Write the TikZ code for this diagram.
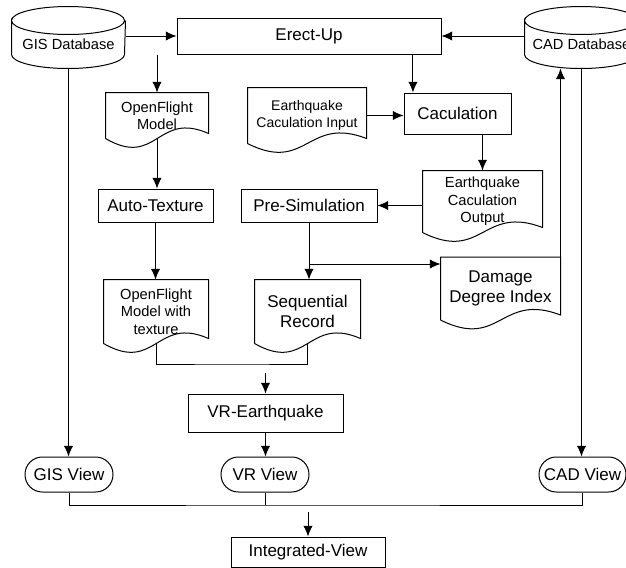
\documentclass[tikz,border=0pt]{standalone}
\usepackage{fontspec}
\setmainfont{Liberation Sans}
\usetikzlibrary{arrows.meta,calc}

\tikzset{
  box/.style={draw, inner sep=0pt, align=center, font=\fontsize{12.75}{15}\selectfont},
  view/.style={box, rounded corners=13pt, minimum width=66pt, minimum height=26.25pt},
  doc/.style={inner sep=0pt, align=center, font=\fontsize{11}{13}\selectfont,
    append after command={\pgfextra{\draw[line width=0.75pt] (\tikzlastnode.south west) -- (\tikzlastnode.north west)
      -- (\tikzlastnode.north east) -- ([yshift=3.75pt]\tikzlastnode.south east)
      .. controls ([yshift=21pt]\tikzlastnode.south) and ([yshift=-22.5pt]\tikzlastnode.south) .. (\tikzlastnode.south west);}}},
  dbase/.style={inner sep=0pt, minimum width=84.75pt, minimum height=35.25pt, font=\fontsize{11}{13}\selectfont,
    append after command={\pgfextra{\draw[line width=0.75pt] (\tikzlastnode.north west)
      arc[start angle=180, end angle=-180, x radius=42.375pt, y radius=10.5pt]
      -- ([yshift=10.5pt]\tikzlastnode.south west)
      arc[start angle=180, end angle=360, x radius=42.375pt, y radius=10.5pt]
      -- (\tikzlastnode.north east);}}}
}

\begin{document}
\begin{tikzpicture}[x=0.75pt, y=-0.75pt, line width=0.75pt, >={Latex[length=8pt,width=7pt]}]
    \useasboundingbox (0,0) rectangle (626,568);
    % sources
    \node[dbase] (gis) at (68.5,44.5) {GIS Database};
    \node[dbase] (cad) at (581.5,44.5) {CAD Database};
    \node[box, minimum width=198pt, minimum height=27pt] (erect) at (309,36) {Erect-Up};
    % model branch
    \node[doc, minimum width=76.5pt, minimum height=33.75pt] (ofm) at (157,115.5) {OpenFlight\\Model};
    \node[box, minimum width=86.25pt, minimum height=24.75pt] (auto) at (155.5,205.5) {Auto-Texture};
    \node[doc, minimum width=78pt, minimum height=47.25pt] (ofmt) at (156,311.5) {OpenFlight\\Model with\\texture};
    % calculation branch
    \node[doc, minimum width=88.5pt, minimum height=41.25pt, font=\fontsize{10.5}{12.5}\selectfont] (inp) at (307,115.5) {Earthquake\\Caculation Input};
    \node[box, minimum width=80.25pt, minimum height=30.75pt] (calc) at (457.5,113.5) {Caculation};
    \node[doc, minimum width=89.25pt, minimum height=45.75pt] (out) at (482.5,201.5) {Earthquake\\Caculation\\Output};
    \node[box, minimum width=102pt, minimum height=24.75pt] (presim) at (309,205.5) {Pre-Simulation};
    \node[doc, minimum width=78.75pt, minimum height=47.25pt, font=\fontsize{12.75}{14.5}\selectfont] (seq) at (307.5,311.5) {Sequential\\Record};
    \node[doc, minimum width=89.25pt, minimum height=46.5pt, font=\fontsize{12.75}{15}\selectfont] (dmg) at (500.5,288.5) {Damage\\Degree Index};
    % views
    \node[box, minimum width=116.25pt, minimum height=28.5pt] (vreq) at (265.5,413) {VR-Earthquake};
    \node[view] (gisv) at (69,474.5) {GIS View};
    \node[view] (vrv) at (265,474.5) {VR View};
    \node[view, minimum width=65.25pt] (cadv) at (582.5,474.5) {CAD View};
    \node[box, minimum width=115.5pt, minimum height=22.5pt] (integ) at (308,552) {Integrated-View};

    \draw[->] (gis.east |- erect.west) -- (erect.west);
    \draw[->] (cad.west |- erect.east) -- (erect.east);
    \draw[->] (erect.south -| ofm.north) -- (ofm.north);
    \coordinate (calcin) at ([xshift=-33.4pt]calc.north);
    \draw[->] (erect.south -| calcin) -- (calcin);
    \draw[->] (inp.east) -- (inp.east -| calc.west);
    \draw[->] (calc.south -| out.north) -- (out.north);
    \draw[->] (out.west |- presim.east) -- (presim.east);
    \draw[->] (ofm.south) -- (ofm.south |- auto.north);
    \draw[->] (auto.south) -- (auto.south |- ofmt.north);
    \draw[->] (presim.south) -- (presim.south |- seq.north);
    \coordinate (splity) at (0,264);
    \coordinate (split) at (presim.south |- splity);
    \draw[->] (split) -- (split -| dmg.west);
    \draw[->] (dmg.north east) -- (dmg.north east |- cad.south);
    \draw[->] (gis.south) -- (gis.south |- gisv.north);
    \draw[->] (cad.south) -- (cad.south |- cadv.north);

    % merging
    \coordinate (join1) at (232,364);
    \coordinate (feed1) at (265.5,373);
    \draw (ofmt.south) |- (join1) -| (seq.south);
    \draw[->] (feed1) -- (vreq.north);
    \draw[->] (vreq.south) -- (vreq.south |- vrv.north);
    \coordinate (join2) at (300,505);
    \coordinate (feed2) at (308,512);
    \draw (gisv.south) |- (join2) -| (cadv.south);
    \draw (vrv.south) -- (vrv.south |- join2);
    \draw[->] (feed2) -- (integ.north);
\end{tikzpicture}
\end{document}
